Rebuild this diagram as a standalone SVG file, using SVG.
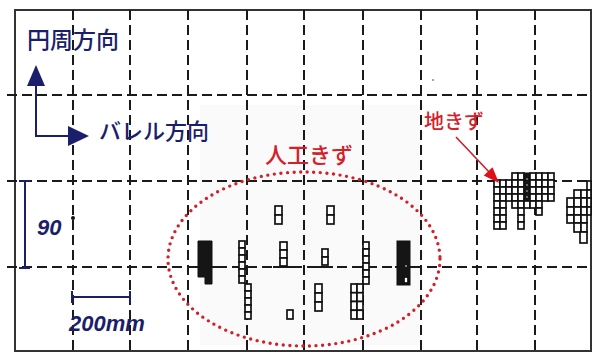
<svg xmlns="http://www.w3.org/2000/svg" width="594" height="355" viewBox="0 0 594 355">
<style>
.bg{fill:#fff}
.frame{fill:none;stroke:#333;stroke-width:2}
.dh,.dv{stroke:#1a1a1a;stroke-width:2;stroke-dasharray:10 5;fill:none}
.solid{stroke:#1a1a1a;stroke-width:2}
.c{fill:#fff;stroke:#111;stroke-width:1.7}
.blk{fill:#151515;stroke:#111;stroke-width:1}
.navy{stroke:#1b1f6b;stroke-width:2;fill:none}
.navyf{fill:#1b1f6b}
.jp{font-family:"Noto Sans CJK JP","Noto Sans",sans-serif;font-weight:500}
.num{font-family:"Liberation Sans",Arial,sans-serif;font-weight:bold;font-style:italic;fill:#1b1f6b}
.red{fill:#d42029}
</style>
<rect class="bg" x="0" y="0" width="594" height="355"/>
<rect x="200" y="105" width="223" height="240" fill="#fafafa"/>
<g id="grid">
<rect class="frame" x="15" y="10" width="576" height="341"/>
<line class="dh" x1="7" y1="95" x2="590" y2="95"/>
<line class="dh" x1="7" y1="181" x2="590" y2="181"/>
<line class="dh" x1="7" y1="267" x2="590" y2="267"/>
<line class="dv" x1="73" y1="10" x2="73" y2="351"/>
<line class="dv" x1="130" y1="10" x2="130" y2="351"/>
<line class="dv" x1="188" y1="10" x2="188" y2="351"/>
<line class="dv" x1="247" y1="10" x2="247" y2="351"/>
<line class="dv" x1="304" y1="10" x2="304" y2="351"/>
<line class="dv" x1="363" y1="10" x2="363" y2="351"/>
<line class="dv" x1="421" y1="10" x2="421" y2="351"/>
<line class="dv" x1="477" y1="10" x2="477" y2="351"/>
<line class="dv" x1="535" y1="10" x2="535" y2="351"/>
<line class="solid" x1="194" y1="267" x2="217" y2="267"/>
<line class="solid" x1="235" y1="267" x2="257" y2="267"/>
<line class="solid" x1="273" y1="267" x2="297" y2="267"/>
<line class="solid" x1="315" y1="267" x2="333" y2="267"/>
<line class="solid" x1="355" y1="267" x2="372" y2="267"/>
<line class="solid" x1="395" y1="267" x2="420" y2="267"/>
<circle cx="73" cy="218" r="2" fill="#111"/>
<circle cx="433" cy="80" r="1" fill="#888"/>
</g>
<g id="defect-A">
<polygon class="blk" points="198,241 212,241 212,284 205,284 205,277 198,277"/>
</g>
<g id="defect-B">
<rect class="c" x="239" y="241" width="6" height="7"/><rect class="c" x="239" y="248" width="6" height="7"/><rect class="c" x="239" y="255" width="6" height="7"/><rect class="c" x="239" y="262" width="6" height="7"/><rect class="c" x="239" y="269" width="6" height="7"/><rect class="c" x="239" y="276" width="6" height="7"/>
<rect class="c" x="245" y="284" width="6" height="7"/><rect class="c" x="245" y="291" width="6" height="7"/><rect class="c" x="245" y="298" width="6" height="7"/><rect class="c" x="245" y="305" width="6" height="7"/><rect class="c" x="245" y="312" width="6" height="7"/>
</g>
<g id="defect-C">
<rect class="c" x="275" y="206" width="7" height="9"/><rect class="c" x="275" y="215" width="7" height="9"/>
<rect class="c" x="280" y="242" width="7" height="8"/><rect class="c" x="280" y="250" width="7" height="8"/><rect class="c" x="280" y="258" width="7" height="8"/>
<rect class="c" x="287" y="310" width="6" height="9"/>
</g>
<g id="defect-D">
<rect class="c" x="327" y="206" width="7" height="9"/><rect class="c" x="327" y="215" width="7" height="9"/>
<rect class="c" x="322" y="249" width="6" height="8"/><rect class="c" x="322" y="257" width="6" height="8"/>
<rect class="c" x="315" y="284" width="7" height="9"/><rect class="c" x="315" y="293" width="7" height="9"/><rect class="c" x="315" y="302" width="7" height="9"/>
</g>
<g id="defect-E">
<rect class="c" x="363" y="242" width="6" height="7"/><rect class="c" x="363" y="249" width="6" height="7"/><rect class="c" x="363" y="256" width="6" height="7"/><rect class="c" x="363" y="263" width="6" height="7"/><rect class="c" x="363" y="270" width="6" height="7"/><rect class="c" x="363" y="277" width="6" height="7"/>
<rect class="c" x="351" y="284" width="6" height="8.75"/><rect class="c" x="357" y="284" width="6" height="8.75"/>
<rect class="c" x="351" y="292.75" width="6" height="8.75"/><rect class="c" x="357" y="292.75" width="6" height="8.75"/>
<rect class="c" x="351" y="301.5" width="6" height="8.75"/><rect class="c" x="357" y="301.5" width="6" height="8.75"/>
<rect class="c" x="351" y="310.25" width="6" height="8.75"/><rect class="c" x="357" y="310.25" width="6" height="8.75"/>
</g>
<g id="defect-F">
<rect class="blk" x="397" y="241" width="13" height="44"/>
<rect class="c" x="404" y="277" width="4" height="6" stroke-width="1"/>
<circle cx="406" cy="266" r="0.8" fill="#fff"/>
</g>
<g id="defect-G">
<rect class="c" x="494" y="180" width="6" height="7"/><rect class="c" x="494" y="187" width="6" height="7"/><rect class="c" x="494" y="194" width="6" height="7"/><rect class="c" x="494" y="201" width="6" height="7"/><rect class="c" x="494" y="208" width="6" height="7"/><rect class="c" x="494" y="215" width="6" height="7"/><rect class="c" x="494" y="222" width="6" height="7"/>
<rect class="c" x="500" y="180" width="6" height="7"/><rect class="c" x="500" y="187" width="6" height="7"/><rect class="c" x="500" y="194" width="6" height="7"/><rect class="c" x="500" y="201" width="6" height="7"/><rect class="c" x="500" y="208" width="6" height="7"/><rect class="c" x="500" y="215" width="6" height="7"/><rect class="c" x="500" y="222" width="6" height="7"/>
<rect class="c" x="506" y="180" width="6" height="7"/><rect class="c" x="506" y="187" width="6" height="7"/><rect class="c" x="506" y="194" width="6" height="7"/>
<rect class="c" x="512" y="173" width="6" height="7"/><rect class="c" x="512" y="180" width="6" height="7"/><rect class="c" x="512" y="187" width="6" height="7"/><rect class="c" x="512" y="194" width="6" height="7"/><rect class="c" x="512" y="201" width="6" height="7"/>
<rect class="c" x="518" y="173" width="6" height="7"/><rect class="c" x="518" y="180" width="6" height="7"/><rect class="c" x="518" y="187" width="6" height="7"/><rect class="c" x="518" y="194" width="6" height="7"/><rect class="c" x="518" y="201" width="6" height="7"/><rect class="c" x="518" y="208" width="6" height="7"/><rect class="c" x="518" y="215" width="6" height="7"/><rect class="c" x="518" y="222" width="6" height="7"/>
<rect class="blk" x="524" y="173" width="6" height="28"/><rect class="c" x="524" y="201" width="6" height="7"/>
<circle cx="527" cy="179" r="0.7" fill="#fff"/><circle cx="527" cy="185" r="0.7" fill="#fff"/><circle cx="527" cy="191" r="0.7" fill="#fff"/><circle cx="527" cy="197" r="0.7" fill="#fff"/>
<rect class="c" x="530" y="173" width="6" height="7"/><rect class="c" x="530" y="180" width="6" height="7"/><rect class="c" x="530" y="187" width="6" height="7"/><rect class="c" x="530" y="194" width="6" height="7"/><rect class="c" x="530" y="201" width="6" height="7"/>
<rect class="c" x="536" y="173" width="6" height="7"/><rect class="c" x="536" y="180" width="6" height="7"/><rect class="c" x="536" y="187" width="6" height="7"/><rect class="c" x="536" y="194" width="6" height="7"/><rect class="c" x="536" y="201" width="6" height="7"/><rect class="c" x="536" y="208" width="6" height="7"/>
<rect class="c" x="542" y="173" width="6" height="7"/><rect class="c" x="542" y="180" width="6" height="7"/><rect class="c" x="542" y="187" width="6" height="7"/><rect class="c" x="542" y="194" width="6" height="7"/>
<rect class="c" x="548" y="173" width="6" height="7"/><rect class="c" x="548" y="180" width="6" height="7"/><rect class="c" x="548" y="187" width="6" height="7"/><rect class="c" x="548" y="194" width="6" height="7"/>
</g>
<g id="defect-H">
<rect class="c" x="587" y="181" width="4" height="9"/>
<rect class="c" x="574" y="190" width="7" height="8"/><rect class="c" x="581" y="190" width="6" height="8"/><rect class="c" x="587" y="190" width="4" height="8"/>
<rect class="c" x="567" y="198" width="7" height="9"/><rect class="c" x="574" y="198" width="7" height="9"/><rect class="c" x="581" y="198" width="6" height="9"/><rect class="c" x="587" y="198" width="4" height="9"/>
<rect class="c" x="567" y="207" width="7" height="8"/><rect class="c" x="574" y="207" width="7" height="8"/><rect class="c" x="581" y="207" width="6" height="8"/><rect class="c" x="587" y="207" width="4" height="8"/>
<rect class="c" x="567" y="215" width="7" height="8"/><rect class="c" x="574" y="215" width="7" height="8"/><rect class="c" x="581" y="215" width="6" height="8"/>
<rect class="c" x="574" y="223" width="7" height="9"/><rect class="c" x="581" y="223" width="6" height="9"/>
<rect class="c" x="580" y="232" width="7" height="11"/>
</g>
<g id="label-circ"><text class="jp navyf" x="27" y="48" font-size="23">円周方向</text></g>
<g id="label-barrel"><text class="jp navyf" x="99" y="139" font-size="22">バレル方向</text></g>
<g id="label-artificial"><text class="jp red" x="265" y="163" font-size="22">人工きず</text></g>
<g id="label-natural"><text class="jp red" x="424" y="129" font-size="20">地きず</text></g>
<g id="scale-90">
<line class="navy" x1="25" y1="181" x2="25" y2="268"/>
<line class="navy" x1="19" y1="181" x2="30" y2="181"/>
<line class="navy" x1="19" y1="268" x2="30" y2="268"/>
<text class="num" x="37" y="235" font-size="22">90</text>
</g>
<g id="scale-200">
<line class="navy" x1="72" y1="297" x2="130" y2="297"/>
<line class="navy" x1="72" y1="291" x2="72" y2="303"/>
<line class="navy" x1="130" y1="291" x2="130" y2="303"/>
<text class="num" x="69" y="331" font-size="22">200mm</text>
</g>
<g id="connectors">
<ellipse cx="304" cy="259" rx="136" ry="87" fill="none" stroke="#d0202a" stroke-width="3.4" stroke-dasharray="0 6.6" stroke-linecap="round"/>
<line class="navy" x1="36" y1="137" x2="36" y2="84"/>
<polygon class="navyf" points="36,65 27,86 45,86"/>
<line class="navy" x1="35" y1="136" x2="69" y2="136"/>
<polygon class="navyf" points="89,136 68,126 68,146"/>
<line x1="456" y1="137" x2="490" y2="173" stroke="#c8202a" stroke-width="1.6"/>
<polygon points="499,183 483.7,175.4 492.5,167.2" fill="#e0101a"/>
</g>
</svg>
